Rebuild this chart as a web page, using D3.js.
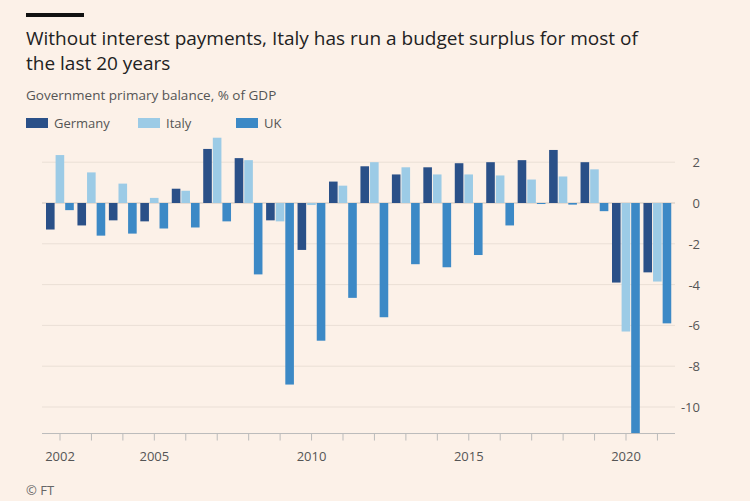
<!DOCTYPE html>
<html><head><meta charset="utf-8">
<script src="https://cdn.jsdelivr.net/npm/d3@7"></script>
<style>body{margin:0;background:#fcf1e8;font-family:"Open Sans",sans-serif}</style>
</head><body><svg id="c" width="750" height="501"></svg>
<script>
const years=d3.range(2002,2022);
const germany=[-1.3,-1.1,-0.85,-0.9,0.7,2.65,2.2,-0.85,-2.3,1.05,1.8,1.4,1.75,1.95,2.0,2.1,2.6,2.0,-3.9,-3.4];
const italy=[2.35,1.5,0.95,0.25,0.6,3.2,2.1,-0.9,-0.1,0.85,2.0,1.75,1.4,1.4,1.35,1.15,1.3,1.65,-6.3,-3.85];
const uk=[-0.35,-1.6,-1.5,-1.25,-1.2,-0.9,-3.5,-8.9,-6.75,-4.65,-5.6,-3.0,-3.15,-2.55,-1.1,-0.05,-0.08,-0.4,-11.3,-5.9];
const series=[["Germany",germany,"#2a5088"],["Italy",italy,"#9ccbe6"],["UK",uk,"#3c89c6"]];
const yTicks=[2,0,-2,-4,-6,-8,-10];
const xLabels=[2002,2005,2010,2015,2020];
const svg=d3.select("#c");
svg.append("rect").attr("x",26).attr("y",13).attr("width",58).attr("height",4).attr("fill","#111");
svg.append("text").attr("x",26).attr("y",45).attr("font-size",19).attr("fill","#222").text("Without interest payments, Italy has run a budget surplus for most of");
svg.append("text").attr("x",26).attr("y",70).attr("font-size",19).attr("fill","#222").text("the last 20 years");
svg.append("text").attr("x",26).attr("y",100).attr("font-size",13.5).attr("fill","#555").text("Government primary balance, % of GDP");
series.forEach((s,i)=>{const lx=[26,138,236][i];
 svg.append("rect").attr("x",lx).attr("y",118).attr("width",22).attr("height",10).attr("fill",s[2]);
 svg.append("text").attr("x",lx+28).attr("y",128).attr("font-size",13).attr("fill","#555").text(s[0]);});
const y=d3.scaleLinear().domain([0,-10]).range([203,407]);
const x=d3.scaleLinear().domain([2002,2020]).range([60,626]);
const left=42,right=675,bottom=y(-11.3);
svg.append("g").selectAll("line").data(yTicks).join("line").attr("x1",left).attr("x2",right)
 .attr("y1",d=>y(d)).attr("y2",d=>y(d)).attr("stroke",d=>d===0?"#cfc5bc":"#eadfd6");
svg.append("g").selectAll("text").data(yTicks).join("text").attr("x",700).attr("y",d=>y(d)+5)
 .attr("text-anchor","end").attr("font-size",13).attr("fill","#555").text(d=>d);
const bw=8.6;
series.forEach((s,i)=>{svg.append("g").selectAll("rect").data(years).join("rect")
 .attr("x",(d,j)=>x(d)-14+i*9.6).attr("width",bw)
 .attr("y",(d,j)=>y(Math.max(0,s[1][j]))).attr("height",(d,j)=>Math.abs(y(s[1][j])-y(0)))
 .attr("fill",s[2]);});
svg.append("line").attr("x1",left).attr("x2",right).attr("y1",bottom).attr("y2",bottom).attr("stroke","#bbb");
svg.append("g").selectAll("line").data(years).join("line").attr("x1",d=>x(d)).attr("x2",d=>x(d))
 .attr("y1",bottom).attr("y2",bottom+7).attr("stroke","#bbb");
svg.append("g").selectAll("text").data(xLabels).join("text").attr("x",d=>x(d)).attr("y",bottom+27)
 .attr("text-anchor","middle").attr("font-size",13).attr("fill","#555").text(d=>d);
svg.append("text").attr("x",26).attr("y",495).attr("font-size",13).attr("fill","#666").text("© FT");
</script></body></html>
